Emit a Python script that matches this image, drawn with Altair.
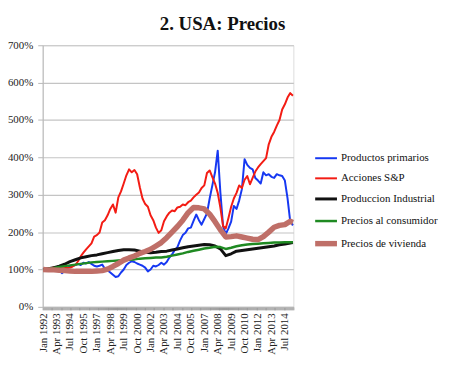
import json
import altair as alt
import pandas as pd

# ---------------- data (values in % of Jan 1992) ----------------
SERIES = ["Productos primarios", "Acciones S&P", "Produccion Industrial",
          "Precios al consumidor", "Precios de vivienda"]
COLORS = ["#1638f2", "#f31c14", "#111111", "#1f8a22", "#bf6f68"]
WIDTHS = [2, 2, 3, 2.5, 5.5]

# month index since Jan 1992
MONTHS_Q = list(range(0, 280, 3))                 # quarterly, 94 points
MONTHS_H = list(range(0, 277, 6)) + [279]         # semiannual, 48 points

TICK_LABELS = ["Jan 1992", "Apr 1993", "Jul 1994", "Oct 1995", "Jan 1997",
               "Apr 1998", "Jul 1999", "Oct 2000", "Jan 2002", "Apr 2003",
               "Jul 2004", "Oct 2005", "Jan 2007", "Apr 2008", "Jul 2009",
               "Oct 2010", "Jan 2012", "Apr 2013", "Jul 2014"]
Y_TICKS = [0, 100, 200, 300, 400, 500, 600, 700]

primarios = [100, 104, 103, 100, 98, 102, 100, 90, 96, 104, 108, 110,
             112, 115, 112, 118, 116, 120, 115, 110, 108, 110, 113, 102,
             98, 92, 86, 80, 82, 92, 100, 112, 118, 122, 120, 116,
             113, 110, 105, 95, 100, 110, 108, 112, 118, 113, 120, 132,
             140, 152, 160, 178, 192, 198, 210, 212, 230, 247, 232, 220,
             235, 250, 290, 325, 360, 418, 305, 215, 195, 210, 228, 270,
             262, 285, 315, 395, 380, 372, 368, 345, 338, 330, 360, 352,
             355, 348, 345, 355, 352, 350, 338, 290, 228, 218]

acciones = [100, 102, 101, 103, 106, 104, 106, 108, 107, 104, 105, 108,
            112, 122, 135, 145, 154, 162, 170, 188, 192, 199, 226, 232,
            245, 262, 274, 252, 293, 309, 330, 352, 368, 360, 366, 355,
            320, 290, 275, 268, 245, 232, 212, 198, 205, 229, 242, 252,
            258, 256, 266, 268, 274, 272, 280, 284, 293, 300, 306, 318,
            325, 358, 365, 347, 330, 305, 265, 216, 210, 238, 268, 290,
            305, 325, 318, 340, 350, 328, 345, 362, 373, 382, 390, 398,
            435, 455, 468, 485, 500, 528, 542, 560, 572, 565]

produccion = [100, 102, 105, 109, 114, 121, 126, 131, 134, 137, 139, 142,
              145, 148, 151, 153, 153, 152, 149, 146, 145, 146, 148, 149,
              152, 155, 158, 161, 163, 165, 167, 166, 163, 155, 137, 142,
              149, 151, 153, 155, 157, 159, 161, 163, 166, 168, 171, 172]

consumidor = [100, 102, 104, 107, 109, 111, 113, 115, 117, 119, 120, 121,
              122, 123, 124, 125, 126, 127, 129, 130, 131, 132, 132, 134,
              137, 140, 143, 147, 150, 153, 156, 158, 161, 160, 155, 158,
              162, 165, 167, 168, 169, 170, 171, 172, 172, 173, 173, 173]

vivienda = [100, 99, 99, 98, 97, 96, 95, 95, 95, 95, 96, 97,
            101, 108, 116, 125, 131, 136, 143, 148, 154, 163, 172, 185,
            200, 215, 232, 252, 266, 265, 262, 248, 228, 206, 187, 188,
            190, 187, 184, 181, 180, 188, 200, 213, 218, 220, 229, 226]

rows = []
for name, months, vals in [(SERIES[0], MONTHS_Q, primarios),
                           (SERIES[1], MONTHS_Q, acciones),
                           (SERIES[2], MONTHS_H, produccion),
                           (SERIES[3], MONTHS_H, consumidor),
                           (SERIES[4], MONTHS_H, vivienda)]:
    for m, v in zip(months, vals):
        rows.append({"serie": name, "mes": m, "valor": v,
                     "orden": SERIES.index(name)})
df = pd.DataFrame(rows)

FONT = "Liberation Serif"
label_expr = ("datum.value % 15 == 0 ? " + json.dumps(TICK_LABELS)
              + "[datum.value / 15] : ''")

x_axis = alt.Axis(values=list(range(0, 280)), labelExpr=label_expr,
                  labelAngle=-90, labelOverlap=False, labelBound=False,
                  labelFlush=False, grid=False, domainColor="#b8b8b8",
                  tickColor="#9a9a9a", tickSize=3, labelFont=FONT,
                  labelFontSize=11, labelColor="#222222", labelPadding=3,
                  title=None)
y_axis = alt.Axis(values=Y_TICKS, labelExpr="datum.value + '%'",
                  gridColor="#c4c4c4", gridWidth=1.2, domainColor="#b8b8b8",
                  tickColor="#b8b8b8", tickSize=5, labelFont=FONT,
                  labelFontSize=11, labelColor="#222222", labelPadding=5,
                  title=None)

legend = alt.Legend(title=None, orient="none", legendX=272, legendY=102,
                    symbolType="stroke", symbolSize=484, labelFont=FONT,
                    labelFontSize=11, labelColor="#111111", rowPadding=3.3,
                    labelOffset=1, padding=0, labelLimit=200)

chart = alt.Chart(df).mark_line(interpolate="linear", strokeJoin="round").encode(
    x=alt.X("mes:Q", scale=alt.Scale(domain=[-0.5, 279.5], nice=False,
                                      zero=False), axis=x_axis),
    y=alt.Y("valor:Q", scale=alt.Scale(domain=[0, 700], nice=False),
            axis=y_axis),
    color=alt.Color("serie:N", scale=alt.Scale(domain=SERIES, range=COLORS),
                    legend=legend, sort=SERIES),
    strokeWidth=alt.StrokeWidth("serie:N",
                                scale=alt.Scale(type="ordinal", domain=SERIES,
                                                range=WIDTHS),
                                legend=legend, sort=SERIES),
    order=alt.Order("orden:Q"),
).properties(
    width=253, height=264,
    title=alt.TitleParams("2. USA: Precios", font=FONT, fontSize=19,
                          fontWeight="bold", color="#111111", anchor="middle",
                          dx=55, offset=5),
    autosize=alt.AutoSizeParams(type="none"),
    padding={"left": 35, "top": 36, "right": 150, "bottom": 48},
).configure_view(stroke=None).configure(
    background="white", font=FONT
).configure_axis(labelFont=FONT).configure_legend(labelFont=FONT)

chart.save("out.html", embed_options={"renderer": "svg", "actions": False})
